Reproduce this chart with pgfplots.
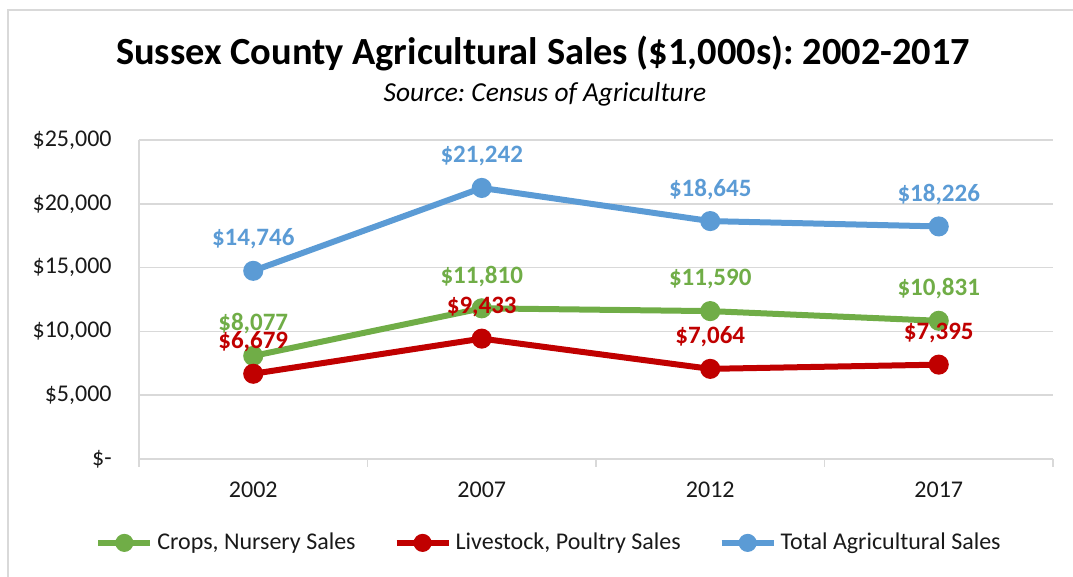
\documentclass[border=0pt]{standalone}
\usepackage{fontspec}
\setmainfont{Carlito}
\usepackage{pgfplots}
\pgfplotsset{compat=1.18}
\definecolor{cropgreen}{HTML}{70AD47}
\definecolor{livered}{HTML}{C00000}
\definecolor{totalblue}{HTML}{5B9BD5}
\definecolor{gridgray}{HTML}{D9D9D9}
\frenchspacing

\begin{document}
\begin{tikzpicture}
\useasboundingbox (-69.5pt,-59pt) rectangle (467pt,229.5pt);
\draw[gridgray, line width=0.75pt] (-65.5pt,-60pt) -- (-65.5pt,224.5pt) -- (468pt,224.5pt);
\begin{axis}[
  at={(0,0)}, anchor=south west,
  scale only axis, width=457pt, height=159.5pt,
  xmin=-0.5, xmax=3.5, ymin=0, ymax=25000,
  xtick={0,1,2,3}, xticklabels={2002,2007,2012,2017},
  minor xtick={-0.5,0.5,1.5,2.5,3.5},
  ytick={0,5000,10000,15000,20000,25000},
  yticklabels={{\$-\hspace{6pt}},{\$5,000},{\$10,000},{\$15,000},{\$20,000},{\$25,000}},
  scaled y ticks=false,
  /pgf/number format/assume math mode=true,
  axis x line*=bottom, axis y line*=left,
  axis line style={gridgray, line width=0.75pt, -},
  ymajorgrids, grid style={gridgray, line width=0.75pt},
  major tick length=0pt, minor tick length=4pt,
  minor x tick style={gridgray, line width=0.75pt},
  tick align=outside,
  tick label style={font=\fontsize{12}{14}\selectfont, text=black!90, inner sep=0pt},
  xticklabel style={anchor=center, yshift=-15.5pt},
  yticklabel style={anchor=east, xshift=-13.5pt},
  nodes near coords={\$\pgfmathprintnumber[fixed,precision=0,1000 sep={,},assume math mode=true]{\pgfplotspointmeta}},
  every node near coord/.append style={font=\bfseries\fontsize{12.5}{15}\selectfont, anchor=center, yshift=16pt, inner sep=0pt},
  legend style={at={(0.4497,-0.263)}, anchor=center, draw=none, fill=none,
    legend columns=3, font=\fontsize{12}{14}\selectfont, text=black!90,
    /tikz/every even column/.append style={column sep=17pt}},
  legend image code/.code={\draw[mark repeat=2,mark phase=2,#1,mark size=3pt] plot coordinates {(0pt,0pt) (13pt,0pt) (26pt,0pt)};},
  clip=false
]
\addplot[cropgreen, line width=3pt, mark=*, mark size=3.5pt,
  every node near coord/.append style={text=cropgreen}]
  coordinates {(0,8077) (1,11810) (2,11590) (3,10831)};
\addplot[livered, line width=3pt, mark=*, mark size=3.5pt,
  every node near coord/.append style={text=livered}]
  coordinates {(0,6679) (1,9433) (2,7064) (3,7395)};
\addplot[totalblue, line width=3pt, mark=*, mark size=3.5pt,
  every node near coord/.append style={text=totalblue}]
  coordinates {(0,14746) (1,21242) (2,18645) (3,18226)};
\legend{{Crops, Nursery Sales},{Livestock, Poultry Sales},{Total Agricultural Sales}}
\end{axis}
\node[font=\bfseries\fontsize{19.2}{23}\selectfont] at (202pt,202.5pt) {Sussex County Agricultural Sales (\$1,000s): 2002-2017};
\node[font=\itshape\fontsize{13.7}{16}\selectfont] at (203pt,182.5pt) {Source: Census of Agriculture};
\end{tikzpicture}
\end{document}
